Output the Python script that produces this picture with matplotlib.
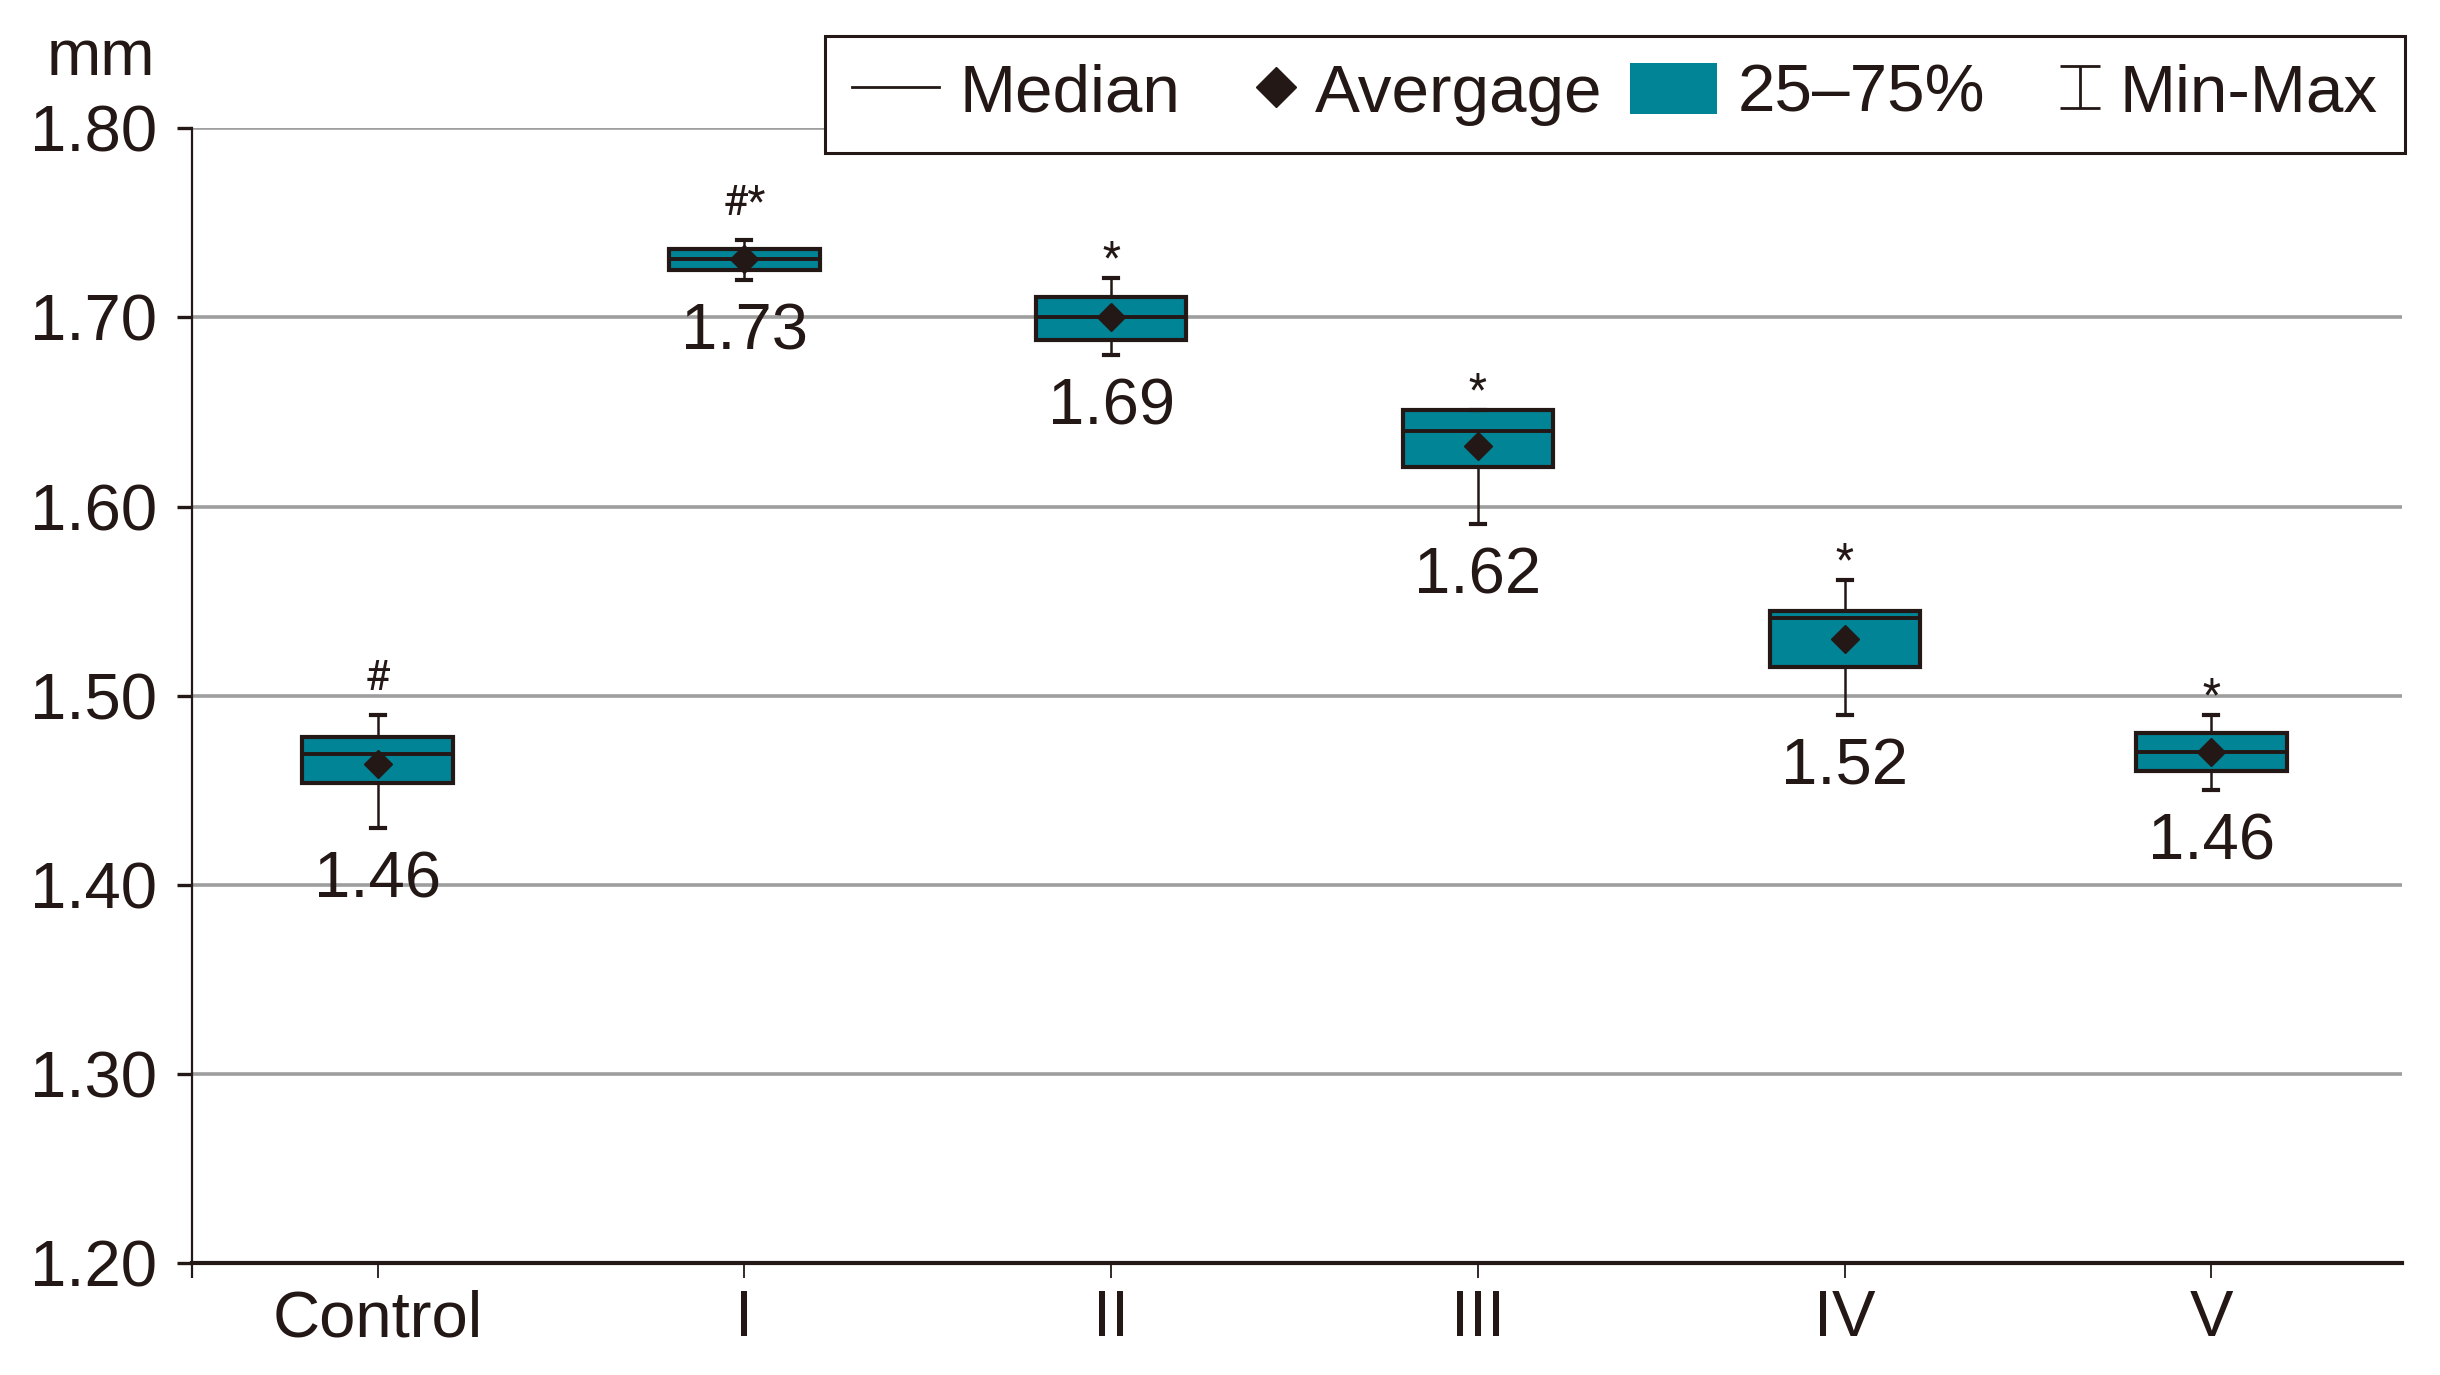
import matplotlib.pyplot as plt
from matplotlib.lines import Line2D
from matplotlib.patches import Patch
from matplotlib.path import Path
from matplotlib.legend_handler import HandlerLine2D

# values (mm)
groups = ['Control', 'I', 'II', 'III', 'IV', 'V']
q1 = [1.454, 1.725, 1.688, 1.621, 1.515, 1.460]
q3 = [1.478, 1.736, 1.711, 1.651, 1.545, 1.480]
medians = [1.469, 1.731, 1.700, 1.640, 1.541, 1.470]
means = [1.464, 1.731, 1.700, 1.632, 1.530, 1.470]
mins = [1.430, 1.720, 1.680, 1.591, 1.490, 1.450]
maxs = [1.490, 1.741, 1.721, 1.651, 1.561, 1.490]
value_labels = ['1.46', '1.73', '1.69', '1.62', '1.52', '1.46']
sig_marks = ['#', '#*', '*', '*', '*', '*']
yticks = [1.20, 1.30, 1.40, 1.50, 1.60, 1.70, 1.80]

dark = '#231815'
teal = '#028497'
grey = '#9e9e9e'

plt.rcParams['font.family'] = ['Liberation Sans', 'DejaVu Sans']


class RightMarker(HandlerLine2D):
    # single legend marker sitting near the right end of the handle box
    def get_xdata(self, legend, xdescent, ydescent, width, height, fontsize):
        m = -xdescent + 0.78 * width
        return [m - 1, m + 1], [m]


fig = plt.figure(figsize=(24.4, 13.75), dpi=100)
ax = fig.add_axes([0.0787, 0.0815, 0.9058, 0.8252])

stats = []
for i, g in enumerate(groups):
    stats.append(dict(label=g, q1=q1[i], q3=q3[i], med=medians[i], mean=means[i],
                      whislo=mins[i], whishi=maxs[i], fliers=[]))

ax.bxp(stats, positions=range(len(groups)), widths=0.41, capwidths=0.038,
       showmeans=True, patch_artist=True,
       boxprops=dict(facecolor=teal, edgecolor=dark, linewidth=3.0),
       medianprops=dict(color=dark, linewidth=2.8),
       whiskerprops=dict(color=dark, linewidth=1.8),
       capprops=dict(color=dark, linewidth=3.0),
       meanprops=dict(marker='D', markerfacecolor=dark, markeredgecolor=dark, markersize=14),
       zorder=3)

# value labels under the whiskers, significance marks above
for i in range(len(groups)):
    ax.text(i, mins[i] - 0.012, value_labels[i], ha='center', va='top',
            fontsize=47, color=dark, zorder=4)
    lift = 0.013 if '#' in sig_marks[i] else 0.004
    ax.text(i, maxs[i] + lift, sig_marks[i], ha='center', va='baseline',
            fontsize=30, family='Roboto', color=dark, zorder=4)

ax.set_xlim(-0.506, 5.52)
ax.set_ylim(1.2, 1.8)
ax.set_yticks(yticks, [f'{v:.2f}' for v in yticks])
ax.set_xticks(range(len(groups)), groups)
ax.set_xticks([-0.506], minor=True)

ax.yaxis.grid(True, color=grey, linewidth=2.6)
ax.set_axisbelow(True)

ax.tick_params(axis='y', length=11, width=2.4, pad=14, labelsize=47, colors=dark)
ax.tick_params(axis='x', length=11, width=1.3, pad=8, labelsize=47, colors=dark)
ax.tick_params(axis='x', which='minor', length=11, width=1.6, colors=dark)

for s in ['top', 'right']:
    ax.spines[s].set_visible(False)
ax.spines['left'].set_linewidth(1.6)
ax.spines['left'].set_color(dark)
ax.spines['bottom'].set_linewidth(3)
ax.spines['bottom'].set_color(dark)

fig.text(0.0193, 0.9455, 'mm', fontsize=47, color=dark, va='baseline')

ibeam = Path([(-0.95, 1), (0.95, 1), (0, 1), (0, -1), (-0.95, -1), (0.95, -1)],
             [Path.MOVETO, Path.LINETO, Path.MOVETO, Path.LINETO, Path.MOVETO, Path.LINETO])
h_avg = Line2D([], [], ls='none', marker='D', color=dark, markersize=20)
h_rng = Line2D([], [], ls='none', marker=ibeam, color=dark, markerfacecolor='none',
               markersize=30, markeredgewidth=2.0)
handles = [Line2D([], [], color=dark, lw=2),
           h_avg,
           Patch(facecolor=teal, edgecolor='none'),
           h_rng]
leg = fig.legend(handles, ['Median', 'Avergage', '25–75%', 'Min-Max'],
                 loc='upper right', bbox_to_anchor=(0.9855, 0.974), ncol=4,
                 fontsize=48.5, frameon=True, fancybox=False, framealpha=1,
                 borderpad=0.4, handlelength=1.3, handleheight=0.8,
                 handletextpad=0.3, columnspacing=0.4, borderaxespad=0,
                 handler_map={h_avg: RightMarker(), h_rng: RightMarker()})
leg.get_frame().set_edgecolor(dark)
leg.get_frame().set_linewidth(2.2)
for t in leg.get_texts():
    t.set_color(dark)

fig.savefig('out.png', dpi=100)
